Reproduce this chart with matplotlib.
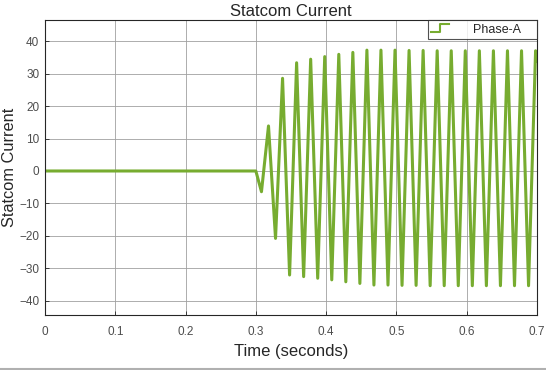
import matplotlib.pyplot as plt
from matplotlib.legend_handler import HandlerBase
from matplotlib.lines import Line2D

plt.rcParams['font.family'] = ['Liberation Sans', 'DejaVu Sans']

# Phase-A current: flat until 0.3 s, then extrema
start_t = [0.0, 0.300]
start_v = [0.0, 0.0]
trough_t = [0.308 + 0.02 * k for k in range(20)]
trough_v = [-6.4, -20.8, -32.1, -32.6, -33.1, -33.6, -34.2, -34.7, -35.2, -35.2,
            -35.3, -35.3, -35.4, -35.4, -35.4, -35.4, -35.4, -35.4, -35.4, -35.4]
peak_t = [0.318 + 0.02 * k for k in range(20)]
peak_v = [13.9, 28.6, 33.4, 34.5, 35.3, 36.0, 36.6, 37.3, 37.3, 37.3,
          37.2, 37.2, 37.1, 37.1, 37.1, 37.1, 37.1, 37.1, 37.1, 37.1]
end_t = [0.700]
end_v = [34.0]

xticks = [0, 0.1, 0.2, 0.3, 0.4, 0.5, 0.6, 0.7]
yticks = [-40, -30, -20, -10, 0, 10, 20, 30, 40]

t = list(start_t)
v = list(start_v)
for a, b, c, d in zip(trough_t, trough_v, peak_t, peak_v):
    t += [a, c]
    v += [b, d]
t += end_t
v += end_v

green = '#77AC30'


class StepHandler(HandlerBase):
    def create_artists(self, legend, orig_handle, xdescent, ydescent,
                       width, height, fontsize, trans):
        x0 = -xdescent
        y0 = -ydescent
        xs = [x0, x0 + 0.5 * width, x0 + 0.5 * width, x0 + width]
        ys = [y0 + 0.05 * height, y0 + 0.05 * height, y0 + 0.95 * height, y0 + 0.95 * height]
        ln = Line2D(xs, ys, color=green, lw=1.5, transform=trans)
        return [ln]


fig = plt.figure(figsize=(5.46, 3.70), dpi=100)
ax = fig.add_axes([0.0824, 0.149, 0.9011, 0.797])

line, = ax.plot(t, v, color=green, lw=2.2, label='Phase-A',
                solid_joinstyle='round')

ax.set_xlim(0, 0.7)
ax.set_ylim(-44.4, 46.6)
ax.set_xticks(xticks)
ax.set_xticklabels(['0', '0.1', '0.2', '0.3', '0.4', '0.5', '0.6', '0.7'])
ax.set_yticks(yticks)
ax.grid(True, color='#a0a0a0', lw=0.6)
ax.tick_params(direction='in', length=3, width=0.6, labelsize=8.5,
               colors='#262626', labelcolor='#4d4d4d')
ax.tick_params(axis='x', pad=8)
ax.tick_params(axis='y', pad=4)
for s in ax.spines.values():
    s.set_color('#262626')
    s.set_linewidth(0.8)

ax.set_title('Statcom Current', fontsize=12, color='#262626', pad=3)
ax.set_xlabel('Time (seconds)', fontsize=12, color='#262626', labelpad=4)
ax.set_ylabel('Statcom Current', fontsize=11.8, color='#262626', labelpad=2)

leg = ax.legend(handles=[line], loc='upper right', bbox_to_anchor=(1, 1),
                borderaxespad=0, fontsize=9, frameon=True, fancybox=False,
                handler_map={Line2D: StepHandler()}, handlelength=1.4,
                handletextpad=1.9, borderpad=0.3)
leg.get_frame().set_edgecolor('#262626')
leg.get_frame().set_linewidth(0.8)
for txt in leg.get_texts():
    txt.set_color('#262626')
    txt.set_text('Phase-A\u2002\u2002')

fig.add_artist(Line2D([0, 1], [0.004, 0.004], color='#b0b0b0', lw=1.5,
                      transform=fig.transFigure))

fig.savefig('out.png', dpi=100)
